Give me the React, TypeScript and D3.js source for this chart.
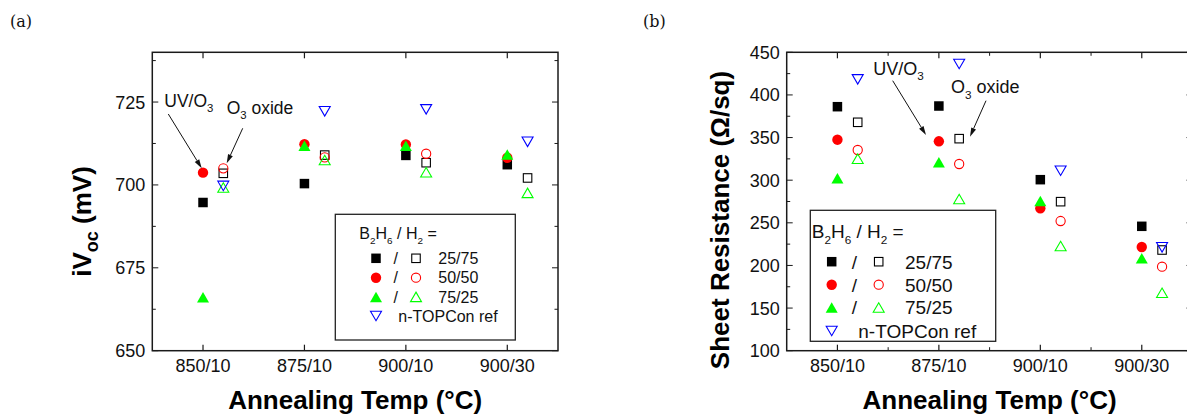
import React from 'react';
import * as d3 from 'd3';

// ---------- data ----------
const categories = ['850/10', '875/10', '900/10', '900/30'];
const ivocTicks = [650, 675, 700, 725];
const rsTicks = [100, 150, 200, 250, 300, 350, 400, 450];

// (a) iVoc (mV) — filled = UV/O3, open = O3 oxide
const ivoc_25_75_uv = [694.7, 700.4, 708.9, 706.1];
const ivoc_50_50_uv = [703.7, 712.3, 712.2, 708.2];
const ivoc_75_25_uv = [666.1, 711.8, 711.8, 709.2];
const ivoc_25_75_o3 = [703.5, 709.0, 706.7, 702.1];
const ivoc_50_50_o3 = [705.0, 708.3, 709.4, null];
const ivoc_75_25_o3 = [699.2, 707.5, 703.8, 697.6];
const ivoc_ref = [699.7, 722.2, 722.8, 713.0];

// (b) Sheet resistance (Ω/sq)
const rs_25_75_uv = [386.2, 387.0, 300.6, 245.9];
const rs_50_50_uv = [347.5, 345.6, 267.0, 221.6];
const rs_75_25_uv = [302.2, 321.0, 275.6, 208.4];
const rs_25_75_o3 = [367.9, 348.7, 274.8, 218.1];
const rs_50_50_o3 = [335.4, 319.0, 252.1, 198.5];
const rs_75_25_o3 = [325.2, 277.9, 222.8, 168.0];
const rs_ref = [418.3, 436.3, 311.1, 221.3];

const legendRatios = ['25/75', '50/50', '75/25'];
const refLabel = 'n-TOPCon ref';

// ---------- styles ----------
const SANS = '"Liberation Sans", Arial, Helvetica, sans-serif';
const BLACK = '#000000';
const RED = '#ff0000';
const GREEN = '#00ff00';
const BLUE = '#0000ff';

type Shape = 'square' | 'circle' | 'tri' | 'down';

function Mark({ shape, filled, color, cx, cy }: { shape: Shape; filled: boolean; color: string; cx: number; cy: number }) {
  const fill = filled ? color : 'none';
  const stroke = color;
  const sw = filled ? 0 : 1.1;
  if (shape === 'square') {
    const s = filled ? 9.5 : 8.5;
    return <rect x={cx - s / 2} y={cy - s / 2} width={s} height={s} fill={fill} stroke={filled ? 'none' : stroke} strokeWidth={sw} />;
  }
  if (shape === 'circle') {
    const r = filled ? 5.2 : 4.6;
    return <circle cx={cx} cy={cy} r={r} fill={fill} stroke={filled ? 'none' : stroke} strokeWidth={sw} />;
  }
  const w = filled ? 12 : 11;
  const h = filled ? 10.5 : 9.5;
  const pts = shape === 'tri'
    ? [[cx, cy - h / 2], [cx + w / 2, cy + h / 2], [cx - w / 2, cy + h / 2]]
    : [[cx - w / 2, cy - h / 2], [cx + w / 2, cy - h / 2], [cx, cy + h / 2]];
  return <polygon points={pts.map((p) => p.join(',')).join(' ')} fill={fill} stroke={filled ? 'none' : stroke} strokeWidth={sw} strokeLinejoin="miter" />;
}

type Series = { values: (number | null)[]; shape: Shape; filled: boolean; color: string; offset: number };

type PanelCfg = {
  left: number; right: number; top: number; bottom: number;
  yDomain: [number, number]; majors: number[]; minorStep: number; xMinor: boolean;
  series: Series[];
  legend: { x0: number; y0: number; x1: number; y1: number; headX: number; headY: number; rowY: number[]; mFill: number; slash: number; mOpen: number; labX: number; refX: number; fs: number };
  ann: { uv: { x: number; y: number }; o3: { x: number; y: number }; fs: number; arrows: number[][] };
  yTitle: React.ReactNode;
  yTitleX: number; yTitleY: number;
};

function Arrow({ x1, y1, x2, y2 }: { x1: number; y1: number; x2: number; y2: number }) {
  const ang = Math.atan2(y2 - y1, x2 - x1);
  const L = 9, W = 2.6;
  const bx = x2 - L * Math.cos(ang), by = y2 - L * Math.sin(ang);
  const px = -Math.sin(ang) * W, py = Math.cos(ang) * W;
  return (
    <g>
      <line x1={x1} y1={y1} x2={bx} y2={by} stroke="#111" strokeWidth={1} />
      <polygon points={`${x2},${y2} ${bx + px},${by + py} ${bx - px},${by - py}`} fill="#111" />
    </g>
  );
}

function Panel({ cfg }: { cfg: PanelCfg }) {
  const x = d3.scaleLinear().domain([0.5, 4.5]).range([cfg.left, cfg.right]);
  const y = d3.scaleLinear().domain(cfg.yDomain).range([cfg.bottom, cfg.top]);
  const minors = d3.range(cfg.yDomain[0], cfg.yDomain[1] + 1e-9, cfg.minorStep).filter((v) => !cfg.majors.includes(v));
  const xMajors = categories.map((_, i) => i + 1);
  const xMinors = cfg.xMinor ? [1.5, 2.5, 3.5] : [];
  const MAJ = 6, MIN = 3.5;
  const axisColor = '#1a1a1a';
  const L = cfg.legend;
  const legendShapes: Shape[] = ['square', 'circle', 'tri'];
  const legendColors = [BLACK, RED, GREEN];
  return (
    <g>
      {/* ticks */}
      {cfg.majors.map((v) => (
        <g key={'ym' + v}>
          <line x1={cfg.left} x2={cfg.left + MAJ} y1={y(v)} y2={y(v)} stroke={axisColor} strokeWidth={1} />
          <line x1={cfg.right} x2={cfg.right - MAJ} y1={y(v)} y2={y(v)} stroke={axisColor} strokeWidth={1} />
          <text x={cfg.left - 7} y={y(v)} dy="0.36em" textAnchor="end" fontFamily={SANS} fontSize={18} fill="#111">{v}</text>
        </g>
      ))}
      {minors.map((v) => (
        <g key={'yn' + v}>
          <line x1={cfg.left} x2={cfg.left + MIN} y1={y(v)} y2={y(v)} stroke={axisColor} strokeWidth={1} />
          <line x1={cfg.right} x2={cfg.right - MIN} y1={y(v)} y2={y(v)} stroke={axisColor} strokeWidth={1} />
        </g>
      ))}
      {xMajors.map((v, i) => (
        <g key={'xm' + v}>
          <line x1={x(v)} x2={x(v)} y1={cfg.bottom} y2={cfg.bottom - MAJ} stroke={axisColor} strokeWidth={1.2} />
          <line x1={x(v)} x2={x(v)} y1={cfg.top} y2={cfg.top + MAJ} stroke={axisColor} strokeWidth={1.2} />
          <text x={x(v)} y={371.5} textAnchor="middle" fontFamily={SANS} fontSize={18} fill="#111">{categories[i]}</text>
        </g>
      ))}
      {xMinors.map((v) => (
        <g key={'xn' + v}>
          <line x1={x(v)} x2={x(v)} y1={cfg.bottom} y2={cfg.bottom - MIN} stroke={axisColor} strokeWidth={1} />
          <line x1={x(v)} x2={x(v)} y1={cfg.top} y2={cfg.top + MIN} stroke={axisColor} strokeWidth={1} />
        </g>
      ))}
      {/* frame */}
      <rect x={cfg.left} y={cfg.top} width={cfg.right - cfg.left} height={cfg.bottom - cfg.top} fill="none" stroke={axisColor} strokeWidth={1.5} />

      {/* legend */}
      <rect x={L.x0} y={L.y0} width={L.x1 - L.x0} height={L.y1 - L.y0} fill="white" stroke="#222" strokeWidth={1.3} />
      <text x={L.headX} y={L.headY} fontFamily={SANS} fontSize={L.fs} fill="#111">
        B<tspan fontSize={L.fs * 0.62} dy={L.fs * 0.3}>2</tspan>
        <tspan dy={-L.fs * 0.3}>H</tspan>
        <tspan fontSize={L.fs * 0.62} dy={L.fs * 0.3}>6</tspan>
        <tspan dy={-L.fs * 0.3}> / H</tspan>
        <tspan fontSize={L.fs * 0.62} dy={L.fs * 0.3}>2</tspan>
        <tspan dy={-L.fs * 0.3}> =</tspan>
      </text>
      {legendRatios.map((r, i) => (
        <g key={'lg' + r}>
          <Mark shape={legendShapes[i]} filled={true} color={legendColors[i]} cx={L.mFill} cy={L.rowY[i]} />
          <text x={L.slash} y={L.rowY[i]} dy="0.36em" textAnchor="middle" fontFamily={SANS} fontSize={L.fs} fill="#111">/</text>
          <Mark shape={legendShapes[i]} filled={false} color={legendColors[i]} cx={L.mOpen} cy={L.rowY[i]} />
          <text x={L.labX} y={L.rowY[i]} dy="0.36em" fontFamily={SANS} fontSize={L.fs} fill="#111">{r}</text>
        </g>
      ))}
      <Mark shape="down" filled={false} color={BLUE} cx={L.mFill} cy={L.rowY[3]} />
      <text x={L.refX} y={L.rowY[3]} dy="0.36em" fontFamily={SANS} fontSize={L.fs} fill="#111">{refLabel}</text>

      {/* data */}
      {cfg.series.map((s, si) =>
        s.values.map((v, i) =>
          v == null ? null : <Mark key={'d' + si + '_' + i} shape={s.shape} filled={s.filled} color={s.color} cx={x(i + 1 + s.offset)} cy={y(v)} />
        )
      )}

      {/* annotations */}
      <text x={cfg.ann.uv.x} y={cfg.ann.uv.y} fontFamily={SANS} fontSize={cfg.ann.fs} fill="#111">
        UV/O<tspan fontSize={cfg.ann.fs * 0.65} dy={cfg.ann.fs * 0.3}>3</tspan>
      </text>
      <text x={cfg.ann.o3.x} y={cfg.ann.o3.y} fontFamily={SANS} fontSize={cfg.ann.fs} fill="#111">
        O<tspan fontSize={cfg.ann.fs * 0.65} dy={cfg.ann.fs * 0.3}>3</tspan>
        <tspan dy={-cfg.ann.fs * 0.3}> oxide</tspan>
      </text>
      {cfg.ann.arrows.map((a, i) => <Arrow key={'ar' + i} x1={a[0]} y1={a[1]} x2={a[2]} y2={a[3]} />)}

      {/* titles */}
      <text x={(cfg.left + cfg.right) / 2} y={409} textAnchor="middle" fontFamily={SANS} fontWeight="bold" fontSize={26} fill="#000">Annealing Temp (°C)</text>
      <text transform={`translate(${cfg.yTitleX},${cfg.yTitleY}) rotate(-90)`} textAnchor="middle" fontFamily={SANS} fontWeight="bold" fontSize={26} fill="#000">
        {cfg.yTitle}
      </text>
    </g>
  );
}

function mkSeries(sq: (number | null)[], ci: (number | null)[], tr: (number | null)[], sqo: (number | null)[], cio: (number | null)[], tro: (number | null)[], ref: (number | null)[]): Series[] {
  const off = 0.2;
  return [
    { values: sq, shape: 'square', filled: true, color: BLACK, offset: 0 },
    { values: ci, shape: 'circle', filled: true, color: RED, offset: 0 },
    { values: tr, shape: 'tri', filled: true, color: GREEN, offset: 0 },
    { values: sqo, shape: 'square', filled: false, color: BLACK, offset: off },
    { values: cio, shape: 'circle', filled: false, color: RED, offset: off },
    { values: tro, shape: 'tri', filled: false, color: GREEN, offset: off },
    { values: ref, shape: 'down', filled: false, color: BLUE, offset: off },
  ];
}

const panelA: PanelCfg = {
  left: 152.3, right: 558, top: 52.3, bottom: 350.7,
  yDomain: [650, 740], majors: ivocTicks, minorStep: 12.5, xMinor: false,
  series: mkSeries(ivoc_25_75_uv, ivoc_50_50_uv, ivoc_75_25_uv, ivoc_25_75_o3, ivoc_50_50_o3, ivoc_75_25_o3, ivoc_ref),
  legend: { x0: 335.3, y0: 214.3, x1: 515.3, y1: 340, headX: 359.3, headY: 239.3, rowY: [258.3, 277.7, 296.9, 316], mFill: 376, slash: 395.7, mOpen: 416, labX: 438.3, refX: 398.3, fs: 16 },
  ann: { uv: { x: 164.3, y: 106.7 }, o3: { x: 226.7, y: 114 }, fs: 17.5, arrows: [[168.3, 114, 201.7, 168.3], [242.7, 128.3, 226.7, 163.3]] },
  yTitle: (<>iV<tspan fontSize={18} dy={7}>oc</tspan><tspan dy={-7}> (mV)</tspan></>),
  yTitleX: 90.5, yTitleY: 221.5,
};

const panelB: PanelCfg = {
  left: 786.7, right: 1192.5, top: 52.3, bottom: 350.7,
  yDomain: [100, 450], majors: rsTicks, minorStep: 25, xMinor: true,
  series: mkSeries(rs_25_75_uv, rs_50_50_uv, rs_75_25_uv, rs_25_75_o3, rs_50_50_o3, rs_75_25_o3, rs_ref),
  legend: { x0: 810.3, y0: 210.3, x1: 995.7, y1: 341.3, headX: 811.7, headY: 238.3, rowY: [261.7, 284.7, 307.5, 331], mFill: 831.7, slash: 854.3, mOpen: 878.7, labX: 905, refX: 858.3, fs: 19 },
  ann: { uv: { x: 873.3, y: 75 }, o3: { x: 951, y: 93.3 }, fs: 18, arrows: [[892.7, 80.7, 926, 135], [986, 100.7, 970, 136.7]] },
  yTitle: <>Sheet Resistance (Ω/sq)</>,
  yTitleX: 728.6, yTitleY: 220,
};

export default function App() {
  return (
    <svg width={1187} height={417} style={{ position: 'absolute', left: 0, top: 0, background: 'white' }}>
      <rect x={0} y={0} width={1187} height={417} fill="white" />
      <text x={10} y={27} fontFamily='"DejaVu Serif", "Liberation Serif", serif' fontSize={16} fill="#111">(a)</text>
      <text x={643} y={27} fontFamily='"DejaVu Serif", "Liberation Serif", serif' fontSize={16} fill="#111">(b)</text>
      <Panel cfg={panelA} />
      <Panel cfg={panelB} />
    </svg>
  );
}
